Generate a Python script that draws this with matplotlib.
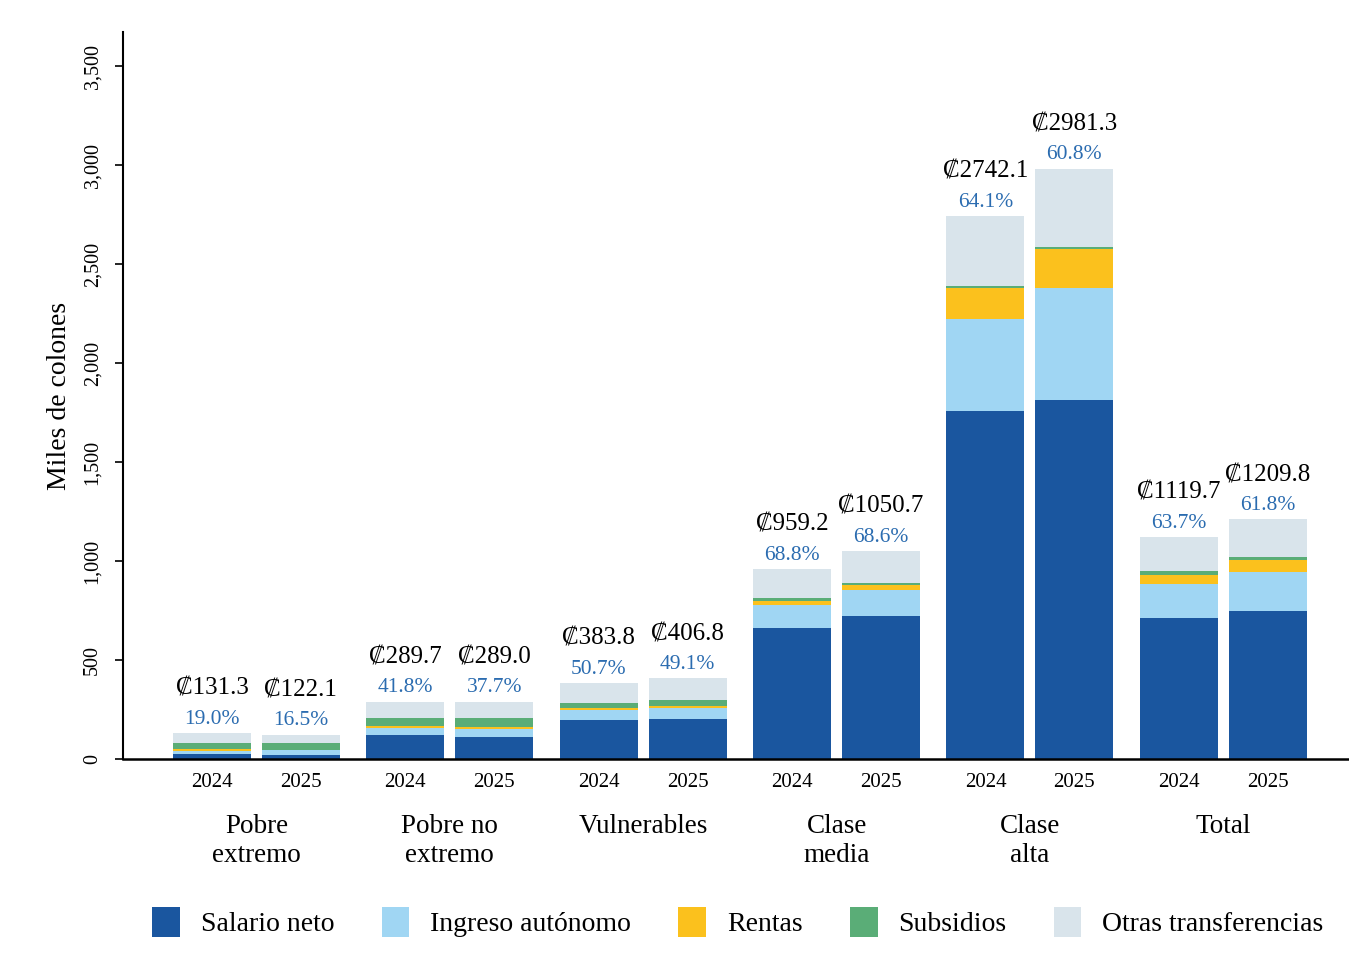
import matplotlib
matplotlib.use("Agg")
import matplotlib.pyplot as plt
import numpy as np
from matplotlib.patches import Patch

plt.rcParams['font.family'] = ['Liberation Serif', 'DejaVu Serif']

# grupos y años
groups = ["Pobre\nextremo", "Pobre no\nextremo", "Vulnerables", "Clase\nmedia", "Clase\nalta", "Total"]
years = ["2024", "2025"]

# componentes del ingreso (miles de colones), orden: [2024, 2025] por grupo
salario = [24.9, 20.1, 121.1, 109.0, 194.6, 199.7, 659.9, 720.8, 1757.7, 1812.6, 713.3, 747.7]
autonomo = [17, 25, 34, 43, 53, 60, 118, 133, 465, 568, 172, 199]
rentas = [10, 2, 12, 10, 12, 10, 20, 26, 158, 196, 44, 59]
subsidios = [29, 34, 40, 45, 24, 29, 15, 10, 9, 10, 20, 17]
otras = [50.4, 41.0, 82.6, 82.0, 100.2, 108.1, 146.3, 160.9, 352.4, 394.7, 170.4, 187.1]

series = [
    ("Salario neto", salario, "#1a569f"),
    ("Ingreso autónomo", autonomo, "#a0d6f3"),
    ("Rentas", rentas, "#fbc11d"),
    ("Subsidios", subsidios, "#5aad77"),
    ("Otras transferencias", otras, "#d9e4eb"),
]

fig = plt.figure(figsize=(13.49, 9.8), dpi=100)
ax = fig.add_axes([0.0912, 0.2255, 0.9088, 0.7415])

width = 0.403
offset = 0.23
xs = []
for g in range(len(groups)):
    xs.append(g - offset)
    xs.append(g + offset)
xs = np.array(xs)

bottom = np.zeros(len(xs))
for name, vals, color in series:
    vals = np.array(vals, dtype=float)
    ax.bar(xs, vals, width=width, bottom=bottom, color=color, linewidth=0)
    bottom += vals

totals = bottom
for x, tot, sal in zip(xs, totals, salario):
    ax.annotate(f"\u20a1{tot:.1f}", (x, tot), xytext=(0, 32), textcoords="offset points",
                ha="center", va="center", fontsize=18, color="black")
    ax.annotate(f"{sal / tot * 100:.1f}%", (x, tot), xytext=(0, 10), textcoords="offset points",
                ha="center", va="center", fontsize=15.5, color="#2b6cb0")

ax.set_xlim(-0.69, 5.65)
ax.set_ylim(0, 3670)
ax.set_xticks(xs)
ax.set_xticklabels(years * len(groups), fontsize=15)
ax.tick_params(axis="x", length=0, pad=10)

yt = np.arange(0, 3501, 500)
ax.set_yticks(yt)
ax.set_yticklabels([f"{v:,}" for v in yt], rotation=90, va="center", fontsize=14.5)
ax.tick_params(axis="y", length=6, width=1.2, direction="out", pad=9)
ax.set_ylabel("Miles de colones", fontsize=20, labelpad=8)

for g, name in enumerate(groups):
    ax.text(g, -0.076, name, transform=ax.get_xaxis_transform(), ha="center", va="top",
            fontsize=19.5, linespacing=1.18)

for s in ["top", "right"]:
    ax.spines[s].set_visible(False)
ax.spines["left"].set_linewidth(1.5)
ax.spines["bottom"].set_linewidth(1.8)

handles = [Patch(facecolor=c, edgecolor="none", label=n) for n, _, c in series]
fig.legend(handles=handles, loc="center", bbox_to_anchor=(0.547, 0.059), ncol=5, frameon=False,
           fontsize=20, handlelength=1.0, handleheight=1.3, handletextpad=0.75, columnspacing=1.7)

fig.savefig("out.png", dpi=100, facecolor="white")
